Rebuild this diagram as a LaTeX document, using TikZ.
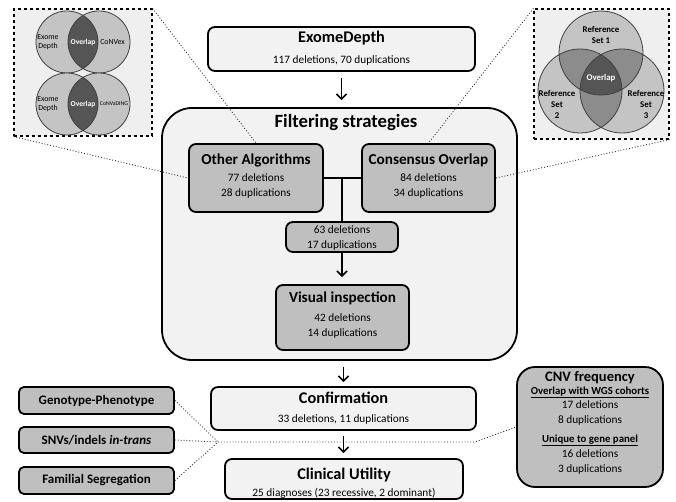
\documentclass[tikz,border=0pt]{standalone}
\usepackage{fontspec}
\setmainfont{Carlito}
\usetikzlibrary{arrows.meta}
\definecolor{lightbox}{HTML}{F2F2F2}
\definecolor{graybox}{HTML}{BFBFBF}
\definecolor{insetbg}{HTML}{EFEFEF}
\definecolor{vennlight}{HTML}{C4C4C4}
\definecolor{vennmid}{HTML}{8C8C8C}
\definecolor{venndark}{HTML}{555555}
\definecolor{vennline}{HTML}{404040}
\begin{document}
\begin{tikzpicture}[x=1pt,y=-1pt,
  box/.style={draw=black, line width=1.8pt, rounded corners=7pt, inner sep=0pt},
  lbox/.style={box, fill=lightbox},
  gbox/.style={box, fill=graybox},
  inset/.style={draw=black, dashed, line width=1.1pt, fill=insetbg, inner sep=0pt},
  flow/.style={line width=1.6pt, -{Straight Barb[length=5pt,width=10pt,line width=1.6pt]}},
  dots/.style={dotted, line width=0.9pt, draw=black!80},
  ttl/.style={font=\bfseries\fontsize{15.2}{17}\selectfont, inner sep=0pt},
  bigttl/.style={font=\bfseries\fontsize{16.3}{18}\selectfont, inner sep=0pt},
  bdy/.style={font=\fontsize{11.3}{15}\selectfont, inner sep=0pt},
  side/.style={gbox, rounded corners=5pt, minimum width=155pt, font=\bfseries\fontsize{13}{15}\selectfont},
  vl/.style={font=\fontsize{7.8}{9.5}\selectfont, inner sep=0pt, align=center},
  vr/.style={font=\bfseries\fontsize{8.8}{11}\selectfont, inner sep=0pt, align=center},
  ring/.style={draw=vennline, line width=0.8pt}
]
\useasboundingbox (0,0) rectangle (676,502);

% ---------- insets ----------
\node[inset, minimum width=138pt, minimum height=127pt] (linset) at (83,72.5) {};
\node[inset, minimum width=135pt, minimum height=130pt] (rinset) at (601.5,74) {};

% left inset venns
\fill[vennlight] (67,42) circle (31) (99,42) circle (31);
\begin{scope}
  \clip (67,42) circle (31);
  \fill[venndark] (99,42) circle (31);
\end{scope}
\draw[ring] (67,42) circle (31) (99,42) circle (31);
\fill[vennlight] (67,104) circle (31) (99,104) circle (31);
\begin{scope}
  \clip (67,104) circle (31);
  \fill[venndark] (99,104) circle (31);
\end{scope}
\draw[ring] (67,104) circle (31) (99,104) circle (31);
\node[vl] (ve1) at (48,42) {Exome\\Depth};
\node[vl, text=white, font=\bfseries\fontsize{7.5}{9}\selectfont] (vo1) at (83,42) {Overlap};
\node[vl] (vc1) at (112.5,42) {CoNVex};
\node[vl] (ve2) at (48,104) {Exome\\Depth};
\node[vl, text=white, font=\bfseries\fontsize{7.5}{9}\selectfont] (vo2) at (83,104) {Overlap};
\node[vl, font=\fontsize{5.8}{7}\selectfont] (vc2) at (114,104) {CoNVaDING};

% right inset venn
\fill[vennlight] (601,53) circle (42) (580,91) circle (42) (622,91) circle (42);
\begin{scope}
  \clip (601,53) circle (42);
  \fill[vennmid] (580,91) circle (42) (622,91) circle (42);
\end{scope}
\begin{scope}
  \clip (580,91) circle (42);
  \fill[vennmid] (622,91) circle (42);
\end{scope}
\begin{scope}
  \clip (601,53) circle (42);
  \clip (580,91) circle (42);
  \fill[venndark] (622,91) circle (42);
\end{scope}
\draw[ring] (601,53) circle (42) (580,91) circle (42) (622,91) circle (42);
\node[vr] (rs1) at (601,35) {Reference\\Set 1};
\node[vr, text=white] (rov) at (601,78) {Overlap};
\node[vr] (rs2) at (557,104) {Reference\\Set\\2};
\node[vr] (rs3) at (646,104) {Reference\\Set\\3};

% ---------- main flow ----------
\node[lbox, minimum width=267pt, minimum height=44pt] (ed) at (341.5,49) {};
\node[bigttl] (edt) at (341.5,38) {ExomeDepth};
\node[bdy] (eds) at (341.5,60) {117 deletions, 70 duplications};

\node[lbox, rounded corners=30pt, minimum width=355pt, minimum height=252pt] (filt) at (339.5,234) {};
\node[font=\bfseries\fontsize{18.7}{21}\selectfont, inner sep=0pt] (filtt) at (346,123) {Filtering strategies};

\node[gbox, minimum width=134pt, minimum height=68pt] (oa) at (256,178) {};
\node[ttl] (oat) at (256,160) {Other Algorithms};
\node[bdy, align=center] (oas) at (256,185.5) {77 deletions\\28 duplications};

\node[gbox, minimum width=133pt, minimum height=68pt] (co) at (428.5,178) {};
\node[ttl] (cot) at (428.5,160) {Consensus Overlap};
\node[bdy, align=center] (cos) at (428.5,185.5) {84 deletions\\34 duplications};

\node[gbox, minimum width=112pt, minimum height=30pt] (mid) at (342,237) {};
\node[bdy, align=center] (mids) at (342,237.5) {63 deletions\\17 duplications};

\node[gbox, minimum width=133pt, minimum height=65pt] (vi) at (342.5,317.5) {};
\node[ttl] (vit) at (342.5,298) {Visual inspection};
\node[bdy, align=center] (vis) at (342.5,326) {42 deletions\\14 duplications};

\node[lbox, minimum width=265pt, minimum height=43pt] (conf) at (343.5,408.5) {};
\node[bigttl] (conft) at (343.5,398) {Confirmation};
\node[bdy] (confs) at (343.5,419) {33 deletions, 11 duplications};

\node[lbox, minimum width=238pt, minimum height=40pt] (clin) at (344,479) {};
\node[bigttl] (clint) at (344,475) {Clinical Utility};
\node[bdy] (clins) at (344,493) {25 diagnoses (23 recessive, 2 dominant)};

% ---------- left evidence boxes ----------
\node[side, minimum height=27pt] (gp) at (96.5,400.5) {Genotype-Phenotype};
\node[side, minimum height=26pt] (snv) at (96.5,440) {SNVs/indels \textit{in-trans}};
\node[side, minimum height=27pt] (fam) at (96.5,480.5) {Familial Segregation};

% ---------- CNV frequency ----------
\node[gbox, rounded corners=18pt, minimum width=146pt, minimum height=120pt] (cnv) at (590,427) {};
\node[font=\bfseries\fontsize{14.5}{16}\selectfont, inner sep=0pt] (cnvt) at (590,378) {CNV frequency};
\node[font=\bfseries\fontsize{10.8}{12}\selectfont, inner sep=0pt] (cnvh1) at (590,392.5) {\underline{Overlap with WGS cohorts}};
\node[bdy, align=center] (cnv1) at (590,413) {17 deletions\\8 duplications};
\node[font=\bfseries\fontsize{10.8}{12}\selectfont, inner sep=0pt] (cnvh2) at (590,440.5) {\underline{Unique to gene panel}};
\node[bdy, align=center] (cnv2) at (590,462) {16 deletions\\3 duplications};

% ---------- connectors ----------
\draw[dots] (linset.north east) -- (oa.north);
\draw[dots] (linset.south west) -- (oa.west);
\draw[dots] (rinset.north west) -- (co.north);
\draw[dots] (rinset.south east) -- (co.east);

\coordinate (conv) at (218,442);
\coordinate (bend) at (475,442);
\draw[dots] (gp.east) -- (conv);
\draw[dots] (snv.east) -- (conv);
\draw[dots] (fam.east) -- (conv);
\draw[dots] (conv) -- (bend) -- (cnv.west);

\draw[flow, shorten <=6pt, shorten >=7pt] (ed.south) -- (ed.south |- filt.north);
\coordinate (j) at (342,178);
\draw[line width=1.6pt] (oa.east) -- (co.west);
\draw[line width=1.6pt] (j) -- (mid.north);
\draw[flow, shorten >=7pt] (mid.south) -- (mid.south |- vi.north);
\draw[flow, shorten <=6pt, shorten >=4pt] (conf.north |- filt.south) -- (conf.north);
\draw[flow, shorten <=5pt, shorten >=5pt] (conf.south) -- (conf.south |- clin.north);
\end{tikzpicture}
\end{document}
